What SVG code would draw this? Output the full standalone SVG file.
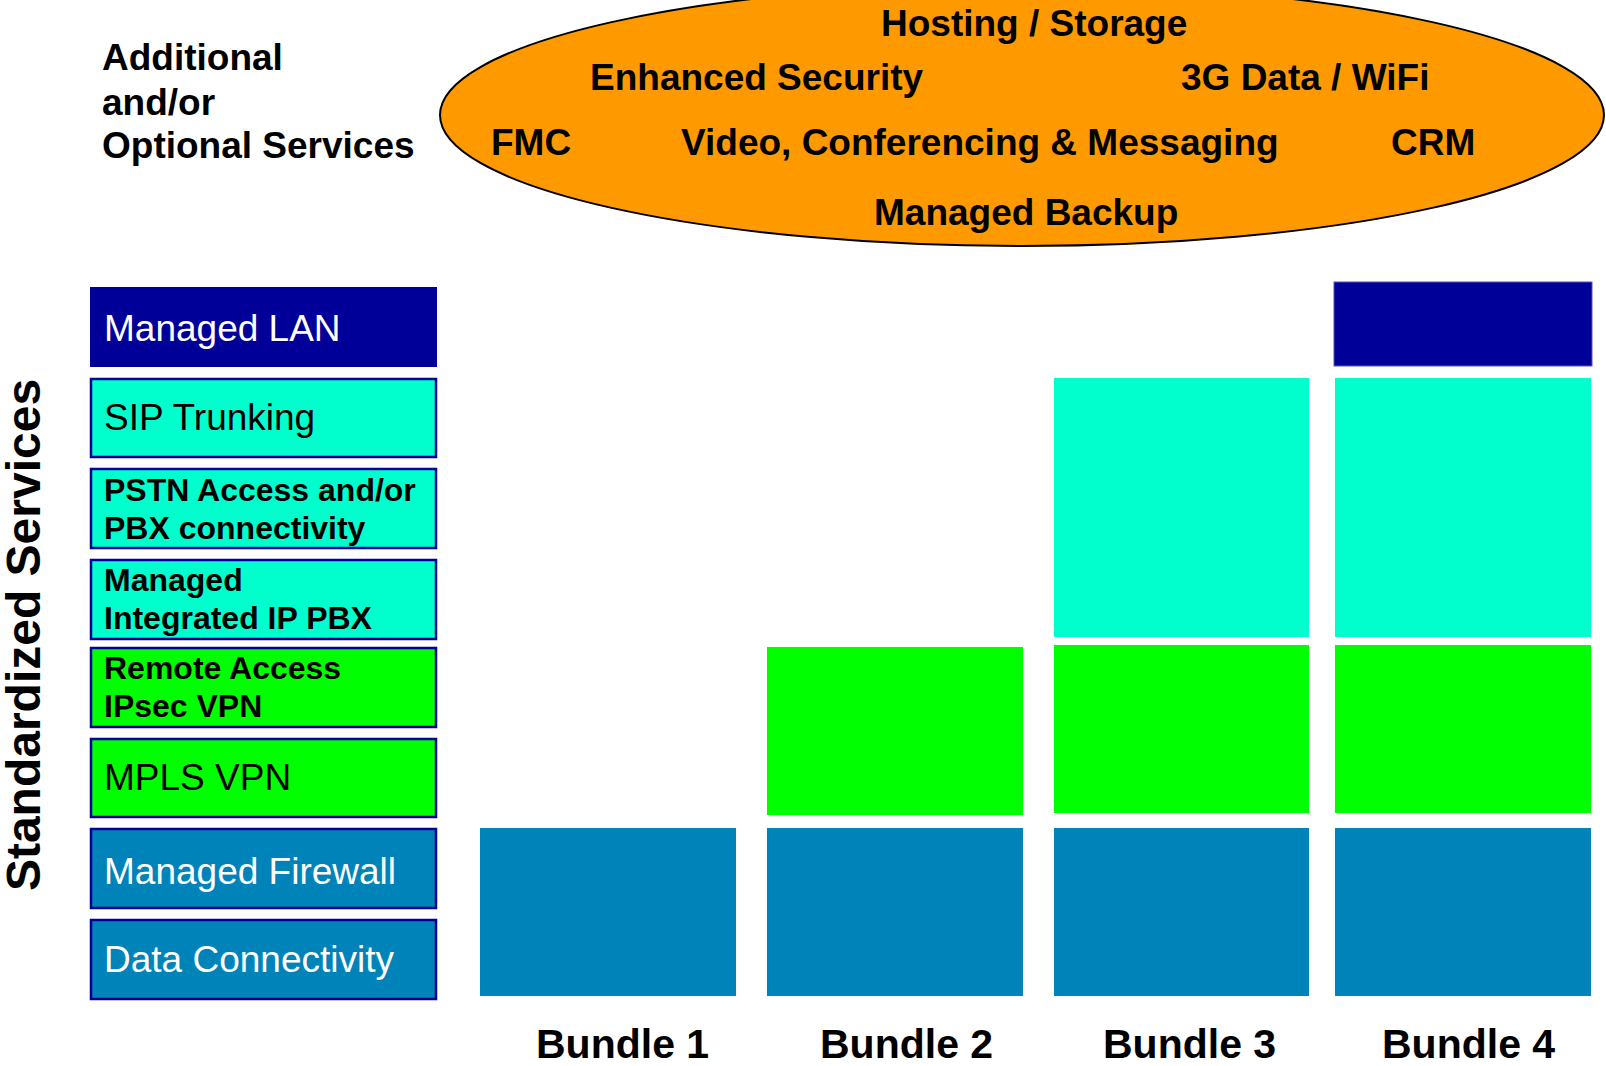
<svg xmlns="http://www.w3.org/2000/svg" width="1606" height="1066" viewBox="0 0 1606 1066">
<style>
text{font-family:"Liberation Sans",Arial,sans-serif;fill:#000}
.b{font-weight:bold}
.h{font-size:37px;font-weight:bold}
.lbl{font-size:37px}
.lb2{font-size:32px;font-weight:bold}
.w{fill:#fff}
.box{stroke:#000099;stroke-width:2.5}
.navy{fill:#000099}
.cyan{fill:#00FFCC}
.green{fill:#00FF00}
.blue{fill:#0083B8}
.bl{font-size:41px;font-weight:bold}
</style>
<rect width="1606" height="1066" fill="#fff"/>

<g id="optional-title">
<text class="h" x="102" y="70">Additional</text>
<text class="h" x="102" y="115">and/or</text>
<text class="h" x="102" y="158">Optional Services</text>
</g>

<g id="optional-ellipse">
<ellipse cx="1022" cy="115" rx="582" ry="131" fill="#FF9900" stroke="#000" stroke-width="2"/>
<text class="h" x="881" y="36">Hosting / Storage</text>
<text class="h" x="590" y="90">Enhanced Security</text>
<text class="h" x="1181" y="90">3G Data / WiFi</text>
<text class="h" x="491" y="155">FMC</text>
<text class="h" x="681" y="155">Video, Conferencing &amp; Messaging</text>
<text class="h" x="1391" y="155">CRM</text>
<text class="h" x="874" y="225">Managed Backup</text>
</g>

<g id="standardized-title">
<text class="b" font-size="48" text-anchor="middle" transform="translate(40,635) rotate(-90)">Standardized Services</text>
</g>

<g id="svc-managed-lan">
<rect class="navy" x="90" y="287" width="347" height="80"/>
<text class="lbl w" x="104" y="341">Managed LAN</text>
</g>
<g id="svc-sip">
<rect class="cyan box" x="91" y="379" width="345" height="78"/>
<text class="lbl" x="104" y="430">SIP Trunking</text>
</g>
<g id="svc-pstn">
<rect class="cyan box" x="91" y="469" width="345" height="79"/>
<text class="lb2" x="104" y="501">PSTN Access and/or</text>
<text class="lb2" x="104" y="539">PBX connectivity</text>
</g>
<g id="svc-ippbx">
<rect class="cyan box" x="91" y="560" width="345" height="79"/>
<text class="lb2" x="104" y="591">Managed</text>
<text class="lb2" x="104" y="629">Integrated IP PBX</text>
</g>
<g id="svc-remote">
<rect class="green box" x="91" y="648" width="345" height="79"/>
<text class="lb2" x="104" y="679">Remote Access</text>
<text class="lb2" x="104" y="717">IPsec VPN</text>
</g>
<g id="svc-mpls">
<rect class="green box" x="91" y="739" width="345" height="78"/>
<text class="lbl" x="104" y="790">MPLS VPN</text>
</g>
<g id="svc-firewall">
<rect class="blue box" x="91" y="829" width="345" height="79"/>
<text class="lbl w" x="104" y="884">Managed Firewall</text>
</g>
<g id="svc-data">
<rect class="blue box" x="91" y="920" width="345" height="79"/>
<text class="lbl w" x="104" y="972">Data Connectivity</text>
</g>

<g id="bundle-1">
<rect class="blue" x="480" y="828" width="256" height="168"/>
<text class="bl" x="536" y="1058">Bundle 1</text>
</g>
<g id="bundle-2">
<rect class="green" x="767" y="647" width="256" height="168"/>
<rect class="blue" x="767" y="828" width="256" height="168"/>
<text class="bl" x="820" y="1058">Bundle 2</text>
</g>
<g id="bundle-3">
<rect class="cyan" x="1054" y="378" width="255" height="259"/>
<rect class="green" x="1054" y="645" width="255" height="168"/>
<rect class="blue" x="1054" y="828" width="255" height="168"/>
<text class="bl" x="1103" y="1058">Bundle 3</text>
</g>
<g id="bundle-4">
<rect class="navy" x="1334" y="282" width="258" height="84" stroke="#5555bb" stroke-width="1"/>
<rect class="cyan" x="1335" y="378" width="256" height="259"/>
<rect class="green" x="1335" y="645" width="256" height="168"/>
<rect class="blue" x="1335" y="828" width="256" height="168"/>
<text class="bl" x="1382" y="1058">Bundle 4</text>
</g>
</svg>
